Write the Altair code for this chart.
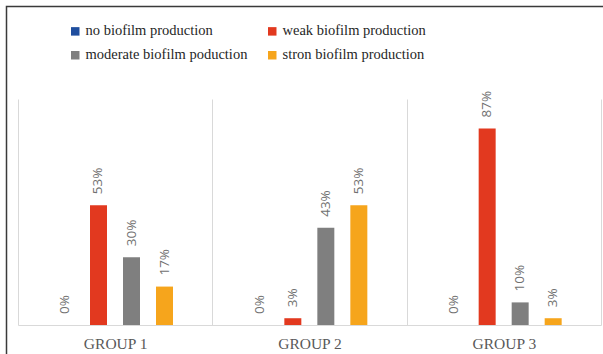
import altair as alt
import pandas as pd

groups = ["GROUP 1", "GROUP 2", "GROUP 3"]
categories = [
    "no biofilm production",
    "weak biofilm production",
    "moderate biofilm poduction",
    "stron biofilm production",
]
colors = ["#1F4E9E", "#E2391F", "#7F7F7F", "#F6A51C"]
no_prod = [0, 0, 0]
weak = [53, 3, 87]
moderate = [30, 43, 10]
strong = [17, 53, 3]

series = [no_prod, weak, moderate, strong]
rows = []
for ci, cat in enumerate(categories):
    for gi, g in enumerate(groups):
        v = series[ci][gi]
        rows.append({"group": g, "category": cat, "value": v, "label": f"{v}%"})
df = pd.DataFrame(rows)

W, H = 583, 226

x = alt.X(
    "group:N",
    sort=groups,
    title=None,
    scale=alt.Scale(paddingInner=0, paddingOuter=0),
    axis=alt.Axis(
        grid=True,
        tickBand="extent",
        ticks=False,
        domain=True,
        domainColor="#D9D9D9",
        gridColor="#D9D9D9",
        labelAngle=0,
        labelFont="Liberation Serif",
        labelFontSize=15.5,
        labelColor="#595959",
        labelPadding=11,
        labelBaseline="top",
    ),
)
xoff = alt.XOffset(
    "category:N",
    sort=categories,
    scale=alt.Scale(paddingInner=0.485, paddingOuter=0, range=[39, 155]),
)
y = alt.Y("value:Q", scale=alt.Scale(domain=[0, 100]), axis=None)

base = alt.Chart(df)

bars = base.mark_bar().encode(
    x=x,
    xOffset=xoff,
    y=y,
    color=alt.Color(
        "category:N",
        sort=categories,
        scale=alt.Scale(domain=categories, range=colors),
        legend=alt.Legend(
            title=None,
            orient="none",
            direction="horizontal",
            legendX=50,
            legendY=-75,
            columns=2,
            columnPadding=17,
            rowPadding=9,
            symbolType="square",
            symbolSize=72,
            symbolStrokeWidth=0,
            labelFont="Liberation Serif",
            labelFontSize=14.5,
            labelColor="#262626",
            labelOffset=3,
            labelLimit=400,
        ),
    ),
)

labels = base.mark_text(
    angle=270,
    align="left",
    baseline="middle",
    dx=11,
    font="Open Sans",
    fontSize=13.5,
    color="#707070",
).encode(x=x, xOffset=xoff, y=y, text="label:N")

frame = alt.Chart(pd.DataFrame({"a": [0]})).mark_rect(
    fill=None, stroke="#3A3A3A", strokeWidth=1.5
).encode(
    x=alt.value(-11.5), x2=alt.value(W + 30), y=alt.value(-92.5), y2=alt.value(H + 60)
)

chart = (
    alt.layer(frame, bars, labels)
    .properties(
        width=W,
        height=H,
        autosize=alt.AutoSizeParams(type="none"),
        padding={"left": 18, "top": 99, "right": 2, "bottom": 29},
        background="white",
    )
    .configure_view(stroke=None)
    .configure_legend(labelFont="Liberation Serif", labelFontSize=14.5, labelLimit=400)
)

chart.save("out.html", embed_options={"renderer": "svg", "actions": False})
